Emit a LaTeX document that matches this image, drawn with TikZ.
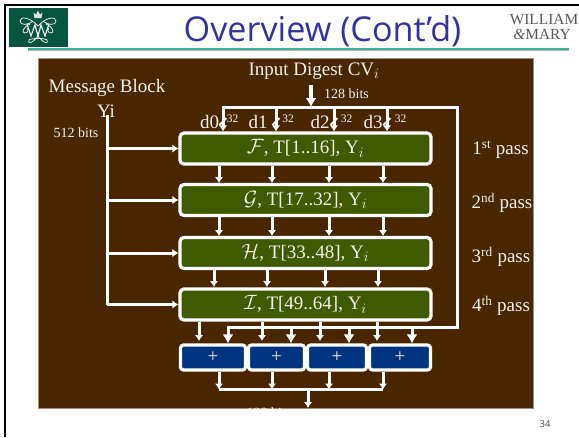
\documentclass[tikz,border=0pt]{standalone}
\usepackage{fontspec}
\setmainfont{Liberation Serif}
\newfontfamily\titlefont{Open Sans}
\usetikzlibrary{arrows.meta}
\definecolor{panelbrown}{HTML}{4A2600}
\definecolor{panelrim}{HTML}{A38F7C}
\definecolor{passgreen}{HTML}{3F5A00}
\definecolor{addblue}{HTML}{003380}
\definecolor{titleblue}{HTML}{3333A0}
\definecolor{crestgreen}{HTML}{07553F}
\definecolor{rulegreen}{HTML}{45B095}
\definecolor{inkwhite}{HTML}{F4F2EC}
\newcommand{\swash}[1]{{\fontsize{21}{23}\selectfont$\mathcal{#1}$}}

\begin{document}
\begin{tikzpicture}[x=1pt,y=-1pt,
    big/.style={text=inkwhite,inner sep=0pt,font=\fontsize{19}{21}\selectfont},
    small/.style={text=inkwhite,inner sep=0pt,font=\fontsize{14}{16}\selectfont},
    tiny/.style={text=inkwhite,inner sep=0pt,font=\fontsize{11.5}{13}\selectfont},
    passbox/.style={big,draw=white,fill=passgreen,line width=3.2pt,rounded corners=4pt,minimum width=251pt,minimum height=31pt},
    addbox/.style={big,draw=white,fill=addblue,line width=3.2pt,rounded corners=3pt,minimum height=25pt},
    wire/.style={draw=white,line width=3pt},
    wirearrow/.style={wire,-{Latex[length=6pt,width=8.5pt]}},
    fatarrow/.style={wire,-{Latex[length=9pt,width=11pt]}},
    crest/.style={draw=white,line width=0.7pt}]
    \useasboundingbox (0,0) rectangle (579,437);

    % slide frame and heading
    \fill[black] (3.5,4) rectangle (579,6.2);
    \fill[black] (3.5,4) rectangle (6,437);
    \fill[crestgreen] (8.5,8) rectangle (68,47);
    \fill[black!30] (28,50) rectangle (569,50.8);
    \fill[rulegreen] (28,48.4) rectangle (569,50.2);
    \node[text=titleblue,font=\titlefont\fontsize{34.2}{37}\selectfont,inner sep=0pt] (title) at (322.5,31) {Overview (Cont’d)};
    \node[text=black!65,font=\fontsize{15.4}{17}\selectfont,inner sep=0pt] (wmone) at (544,20) {WILLIAM};
    \node[text=black!65,font=\fontsize{15.4}{17}\selectfont,inner sep=0pt] (wmtwo) at (542,34) {\textit{\&}MARY};
    \node[text=black!70,font=\titlefont\fontsize{9.5}{11}\selectfont,inner sep=0pt] (pageno) at (545,424) {34};

    % crest
    \fill[white!85!crestgreen] (34.5,18) -- (33.5,12.5) -- (36,14.5) -- (38,10.5) -- (40,14.5) -- (42.5,12.5) -- (41.5,18) -- cycle;
    \draw[crest] (38,26) .. controls (30,17) and (20,16) .. (20,21) .. controls (20,26) and (29,25) .. (33,21);
    \draw[crest] (38,26) .. controls (46,17) and (56,16) .. (56,21) .. controls (56,26) and (47,25) .. (43,21);
    \draw[crest] (30,24) .. controls (23,27) and (21,33) .. (25,33) .. controls (28,33) and (29,30) .. (27,28);
    \draw[crest] (46,24) .. controls (53,27) and (55,33) .. (51,33) .. controls (48,33) and (47,30) .. (49,28);
    \draw[crest,line width=1.1pt] (27,24) -- (31,36) -- (35,25) -- (38,36) -- (41,25) -- (45,36) -- (49,24);
    \draw[crest] (38,36) .. controls (32,44) and (27,44) .. (29,40) .. controls (31,38) and (45,38) .. (47,40) .. controls (49,44) and (44,44) .. (38,36);

    % panel
    \node[draw=panelrim,fill=panelbrown,line width=0.8pt,minimum width=495pt,minimum height=349.5pt,inner sep=0pt] (panel) at (285.5,233.5) {};
    \node[small,text=white] (outbits) at (269,412.5) {128 bits};

    \node[big] (digest) at (314,71) {Input Digest CV$_i$};
    \node[small] (digestbits) at (346.5,94) {128 bits};
    \node[big] (block) at (107,88) {Message Block};
    \node[big] (yi) at (106,111) {Yi};
    \node[small] (blockbits) at (76,133) {512 bits};

    \node[big] (dzero) at (209.5,122) {d0};
    \node[big] (done) at (258,122) {d1};
    \node[big] (dtwo) at (320,122) {d2};
    \node[big] (dthree) at (373,122) {d3};
    \node[tiny] (wzero) at (232.5,119) {32};
    \node[tiny] (wone) at (288,119) {32};
    \node[tiny] (wtwo) at (346.5,119) {32};
    \node[tiny] (wthree) at (400.5,119) {32};

    \node[passbox] (fpass) at (305.5,148.5) {\swash{F}, T[1..16], Y$_i$};
    \node[passbox] (gpass) at (305.5,200) {\swash{G}, T[17..32], Y$_i$};
    \node[passbox] (hpass) at (305.5,253) {\swash{H}, T[33..48], Y$_i$};
    \node[passbox] (ipass) at (305.5,304.5) {\swash{I}, T[49..64], Y$_i$};

    \node[big] (firstpass) at (500.5,150) {1\textsuperscript{st} pass};
    \node[big] (secondpass) at (502,203) {2\textsuperscript{nd} pass};
    \node[big] (thirdpass) at (501,257) {3\textsuperscript{rd} pass};
    \node[big] (fourthpass) at (501,306) {4\textsuperscript{th} pass};

    \node[addbox,minimum width=65pt] (addone) at (213,357.5) {+};
    \node[addbox,minimum width=56pt] (addtwo) at (276.5,357.5) {+};
    \node[addbox,minimum width=59pt] (addthree) at (337,357.5) {+};
    \node[addbox,minimum width=61pt] (addfour) at (400,357.5) {+};

    % named points on the buses
    \coordinate (blocktop) at (107,115);
    \coordinate (blockend) at (107,304.5);
    \coordinate (digesttop) at (311,85);
    \coordinate (busnw) at (223,107);
    \coordinate (busne) at (457,107);
    \coordinate (busse) at (457,327);
    \coordinate (bussw) at (228,327);
    \coordinate (busb) at (276,107);
    \coordinate (busc) at (334,107);
    \coordinate (busd) at (387,107);
    \coordinate (feedb) at (291,327);
    \coordinate (feedc) at (349,327);
    \coordinate (feedd) at (412,327);
    \coordinate (suma) at (219,389.5);
    \coordinate (sumb) at (272,389.5);
    \coordinate (sumc) at (329,389.5);
    \coordinate (sumd) at (383,389.5);
    \coordinate (sumout) at (308,389.5);
    \coordinate (finalout) at (308,408);

    % message block feed
    \draw[wire] (blocktop) -- (blockend);
    \draw[wirearrow] (blockend |- fpass) -- (fpass.west);
    \draw[wirearrow] (blockend |- gpass) -- (gpass.west);
    \draw[wirearrow] (blockend |- hpass) -- (hpass.west);
    \draw[wirearrow] (blockend) -- (ipass.west);

    % digest feed and the wrap round to the adders
    \draw[fatarrow,line width=3.6pt] (digesttop) -- (digesttop |- busnw);
    \draw[wire,line cap=rect] (busnw) -- (busne) -- (busse) -- (bussw);
    \draw[wirearrow] (busnw) -- (busnw |- fpass.north);
    \draw[wirearrow] (busb) -- (busb |- fpass.north);
    \draw[wirearrow] (busc) -- (busc |- fpass.north);
    \draw[wirearrow] (busd) -- (busd |- fpass.north);
    \draw[wire,line width=2pt] (219.5,125) -- (226.5,118);
    \draw[wire,line width=2pt] (272.5,125) -- (279.5,118);
    \draw[wire,line width=2pt] (330.5,125) -- (337.5,118);
    \draw[wire,line width=2pt] (383.5,125) -- (390.5,118);

    % between the passes
    \draw[wirearrow] (219,166) -- (219,183);
    \draw[wirearrow] (272,166) -- (272,183);
    \draw[wirearrow] (329,166) -- (329,183);
    \draw[wirearrow] (383,166) -- (383,183);
    \draw[wirearrow] (219,217) -- (219,236);
    \draw[wirearrow] (272,217) -- (272,236);
    \draw[wirearrow] (329,217) -- (329,236);
    \draw[wirearrow] (383,217) -- (383,236);
    \draw[wirearrow] (214,270) -- (214,287);
    \draw[wirearrow] (267,270) -- (267,287);
    \draw[wirearrow] (325,270) -- (325,287);
    \draw[wirearrow] (378,270) -- (378,287);

    % last pass into the adders
    \draw[wirearrow] (199,322) -- (199,341);
    \draw[wirearrow] (262,322) -- (262,341);
    \draw[wirearrow] (320,322) -- (320,341);
    \draw[wirearrow] (377,322) -- (377,341);
    \draw[fatarrow] (bussw) -- (bussw |- addone.north);
    \draw[fatarrow] (feedb) -- (feedb |- addtwo.north);
    \draw[fatarrow] (feedc) -- (feedc |- addthree.north);
    \draw[fatarrow] (feedd) -- (feedd |- addfour.north);

    % adders to the output
    \draw[wirearrow] (suma |- addone.south) -- (suma);
    \draw[wirearrow] (sumb |- addtwo.south) -- (sumb);
    \draw[wirearrow] (sumc |- addthree.south) -- (sumc);
    \draw[wirearrow] (sumd |- addfour.south) -- (sumd);
    \draw[wire] (suma) -- (sumd);
    \draw[wirearrow] (sumout) -- (finalout);
\end{tikzpicture}
\end{document}
